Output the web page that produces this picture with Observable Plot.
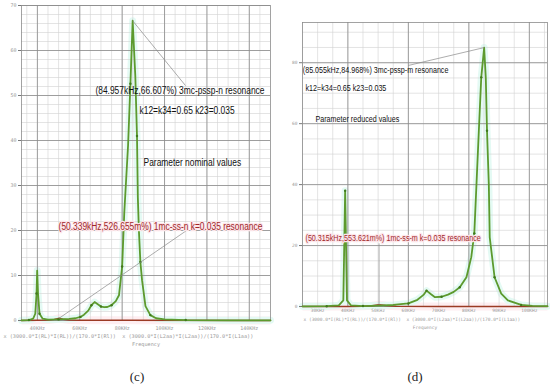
<!DOCTYPE html>
<html><head><meta charset="utf-8">
<script src="https://cdn.jsdelivr.net/npm/d3@7"></script>
<script src="https://cdn.jsdelivr.net/npm/@observablehq/plot@0.6"></script>
<style>
html,body{margin:0;padding:0;background:#fff;}
#fig{position:relative;width:550px;height:388px;overflow:hidden;font-family:"Liberation Sans",Arial,sans-serif;}
#fig svg{position:absolute;overflow:visible;background:transparent;}
.cap{position:absolute;font-family:"Liberation Serif","Times New Roman",serif;font-size:13px;color:#222;transform:translate(-50%,-50%);}
</style></head><body><div id="fig"></div>
<script>
// ---------- Panel (c): nominal parameter values ----------
const leftFreq  = [32.5,36,38,39,39.6,39.9,40.3,41,42.5,45,50,55,58,60.3,62,64,65.5,67,68.5,70,71.5,73,75,77,78.5,80,81,82.8,83.9,84.957,86.2,87,87.4,87.9,88.6,89.4,91,93.3,96,100,110,130,150];
const leftGreen = [0.05,0.1,0.4,1.5,6,11.1,6,1.5,0.4,0.2,0.25,0.35,0.5,0.8,1.3,2.2,3.4,4.1,3.6,3.1,2.95,3.0,3.4,4.3,5.6,12,24,39,52.6,66.607,54.4,41,27.4,20,13,8.9,3.2,1.2,0.5,0.25,0.1,0.05,0.03];
const leftRedFreq = [32.5,40,45,48,50.339,52,55,60,80,150];
const leftRed     = [0.02,0.04,0.1,0.25,0.527,0.3,0.12,0.06,0.04,0.01];
const leftXTicks = [40,60,80,100,120,140];
const leftXTickLabels = ["40KHz","60KHz","80KHz","100KHz","120KHz","140KHz"];
const leftYTicks = [0,10,20,30,40,50,60,70];
const leftNotes = ["(84.957kHz,66.607%) 3mc-pssp-n resonance","k12=k34=0.65 k23=0.035","Parameter nominal values"];
const leftNoteF = [67.4,88.2,90.1];
const leftNoteV = [51.1,46.7,35.1];
const leftRedNote = ["(50.339kHz,526.655m%) 1mc-ss-n k=0.035 resonance"];
const leftRedNoteF = [50.0];
const leftRedNoteV = [20.9];
const leftLeaderFrom = [[84.957,66.607],[50.339,0.527]];
const leftLeaderTo   = [[109.9,52.2],[110.4,20]];

// ---------- Panel (d): reduced parameter values ----------
const rightFreq  = [25,33,37,38.5,39.1,39.7,41,45,50,55,60,63,65,66.0,67.5,68.8,71,73.1,75,77,79.2,80.8,81.8,82.5,83.3,84.1,85.055,85.6,86.0,86.6,86.9,88.5,90.7,92.9,97.3,101,106];
const rightGreen = [0.05,0.1,0.4,2,38,2,0.4,0.15,0.3,0.5,1.0,2.2,3.8,5.2,4.0,3.05,3.2,3.9,4.8,6.3,9.6,16.2,24,39.7,57.7,75.2,84.968,75,57.7,40,22.7,9.6,4.2,2.0,0.5,0.2,0.1];
const rightRedFreq = [25,40,45,48,50.315,52.5,56,70,106];
const rightRed     = [0.02,0.04,0.1,0.25,0.554,0.3,0.1,0.04,0.02];
const rightXTicks = [30,40,50,60,70,80,90,100];
const rightXTickLabels = ["30KHz","40KHz","50KHz","60KHz","70KHz","80KHz","90KHz","100KHz"];
const rightYTicks = [0,20,40,60,80];
const rightNotes = ["(85.055kHz,84.968%) 3mc-pssp-m resonance","k12=k34=0.65 k23=0.035","Parameter reduced values"];
const rightNoteF = [25.1,26,29.3];
const rightNoteV = [77.4,71.5,61.3];
const rightRedNote = ["(50.315kHz,553.621m%) 1mc-ss-m k=0.035 resonance"];
const rightRedNoteF = [26];
const rightRedNoteV = [22.3];
const rightLeaderFrom = [[85.055,84.968],[50.315,0.554]];
const rightLeaderTo   = [[60.0,79.1],[50.315,20.7]];

const formula = "x (3000.0*I(RL)*I(RL))/(170.0*I(Rl))  x (3000.0*I(L2aa)*I(L2aa))/(170.0*I(L1aa))";

function panel(c) {
  const green = c.freq.map((f,i)=>({f, v:c.green[i]}));
  const red = c.redFreq.map((f,i)=>({f, v:c.red[i]}));
  const notes = c.notes.map((t,i)=>({t, f:c.noteF[i], v:c.noteV[i]}));
  const rnotes = c.rnotes.map((t,i)=>({t, f:c.rnoteF[i], v:c.rnoteV[i]}));
  const leaders = c.from.map((p,i)=>({f1:p[0], v1:p[1], f2:c.to[i][0], v2:c.to[i][1]}));
  const xMinor = d3.range(Math.ceil(c.xDomain[0]/5)*5, c.xDomain[1], 5);
  const yMinor = d3.range(0, c.yDomain[1], c.yMinorStep);
  const tickFont = "DejaVu Sans Mono";
  return Plot.plot({
    width: c.width, height: c.height,
    marginLeft: c.ml, marginRight: c.mr, marginTop: c.mt, marginBottom: c.mb,
    x: {domain: c.xDomain, axis: null},
    y: {domain: c.yDomain, axis: null},
    style: {background: "transparent", overflow: "visible"},
    marks: [
      Plot.line(red, {x:"f", y:"v", stroke:"#feeef1", strokeWidth:8, strokeLinecap:"butt"}),
      Plot.line(green, {x:"f", y:"v", stroke:"#e4faf4", strokeWidth:7}),
      Plot.ruleX(xMinor, {stroke:"#d2d2d2", strokeWidth:0.6}),
      Plot.ruleY(yMinor, {stroke:"#d2d2d2", strokeWidth:0.6}),
      Plot.ruleX(c.xMajor, {stroke:"#8c8c8c", strokeWidth:0.8}),
      Plot.ruleY(c.yMajor, {stroke:"#8c8c8c", strokeWidth:0.8}),
      Plot.frame({stroke:"#8c8c8c", strokeWidth:0.8}),
      Plot.axisY(c.yTicks, {tickSize:3, tickFormat:()=>"", stroke:"#777"}),
      Plot.line(red, {x:"f", y:"v", stroke:"#9b3a24", strokeWidth:1.5}),
      Plot.line(green, {x:"f", y:"v", stroke:"#5c9a2e", strokeWidth:1.8}),
      Plot.dot(green.filter((d,i)=>i%3===1), {x:"f", y:"v", r:1.2, fill:"#3f7a1c"}),
      Plot.link(leaders, {x1:"f1", y1:"v1", x2:"f2", y2:"v2", stroke:"#8a8a8a", strokeWidth:0.7}),
      Plot.text(notes, {x:"f", y:"v", text:"t", textAnchor:"start", fontSize:c.noteSize, fill:"#111", fontFamily:"Liberation Sans, Arial, sans-serif"}),
      Plot.text(rnotes, {x:"f", y:"v", text:"t", textAnchor:"start", fontSize:c.noteSize, fill:"#a0282a", stroke:"#fde6ea", strokeWidth:2.5, fontFamily:"Liberation Sans, Arial, sans-serif"}),
      Plot.text(c.xTicks, {x:d=>d, text:(d,i)=>c.xLabels[i], frameAnchor:"bottom", dy:c.tickDy, fontSize:c.tickSize, fill:"#9a9a9a", fontFamily:tickFont}),
      Plot.text(c.yTicks, {y:d=>d, text:d=>String(d), frameAnchor:"left", dx:-5, textAnchor:"end", fontSize:c.tickSize, fill:"#9a9a9a", fontFamily:tickFont}),
      Plot.text([formula], {frameAnchor:"bottom-left", dx:c.fdx, dy:c.fdy, text:d=>d, textAnchor:"start", fontSize:c.fSize, fill:"#9a9a9a", fontFamily:tickFont}),
      Plot.text(["Frequency"], {frameAnchor:"bottom", dy:c.qdy, text:d=>d, fontSize:c.fSize, fill:"#9a9a9a", fontFamily:tickFont})
    ]
  });
}

const fig = document.getElementById("fig");
const left = panel({
  freq:leftFreq, green:leftGreen, redFreq:leftRedFreq, red:leftRed,
  notes:leftNotes, noteF:leftNoteF, noteV:leftNoteV,
  rnotes:leftRedNote, rnoteF:leftRedNoteF, rnoteV:leftRedNoteV,
  from:leftLeaderFrom, to:leftLeaderTo,
  xTicks:leftXTicks, xLabels:leftXTickLabels, yTicks:leftYTicks,
  xMajor:leftXTicks, yMajor:leftYTicks, yMinorStep:2,
  xDomain:[32.5,150], yDomain:[0,70],
  width:275, height:352, ml:21, mr:5, mt:5, mb:32,
  noteSize:10, tickSize:5, tickDy:9, fSize:5.2, fdx:-18, fdy:17.5, qdy:25
});
left.style.left = "0px"; left.style.top = "0px";
fig.appendChild(left);

const right = panel({
  freq:rightFreq, green:rightGreen, redFreq:rightRedFreq, red:rightRed,
  notes:rightNotes, noteF:rightNoteF, noteV:rightNoteV,
  rnotes:rightRedNote, rnoteF:rightRedNoteF, rnoteV:rightRedNoteV,
  from:rightLeaderFrom, to:rightLeaderTo,
  xTicks:rightXTicks, xLabels:rightXTickLabels, yTicks:rightYTicks,
  xMajor:[40,60,80,100], yMajor:rightYTicks, yMinorStep:5,
  xDomain:[25,106], yDomain:[0,93.2],
  width:275, height:336, ml:27, mr:3, mt:22, mb:30,
  noteSize:8.5, tickSize:4.5, tickDy:5, fSize:4.5, fdx:1, fdy:14, qdy:22.5
});
right.style.left = "275px"; right.style.top = "0px";
fig.appendChild(right);

// condensed look of the annotation font
const noteTexts = new Set([...leftNotes, ...leftRedNote, ...rightNotes, ...rightRedNote]);
d3.select(fig).selectAll("text").each(function() {
  if (noteTexts.has(this.textContent)) {
    const w = this.getComputedTextLength();
    this.setAttribute("textLength", (w * 0.84).toFixed(1));
    this.setAttribute("lengthAdjust", "spacingAndGlyphs");
  }
  if (this.textContent.startsWith("(50.")) this.setAttribute("paint-order", "stroke");
});

for (const [t, x] of [["(c)", 137], ["(d)", 415]]) {
  const d = document.createElement("div");
  d.className = "cap"; d.textContent = t;
  d.style.left = x + "px"; d.style.top = "377px";
  fig.appendChild(d);
}
</script></body></html>
